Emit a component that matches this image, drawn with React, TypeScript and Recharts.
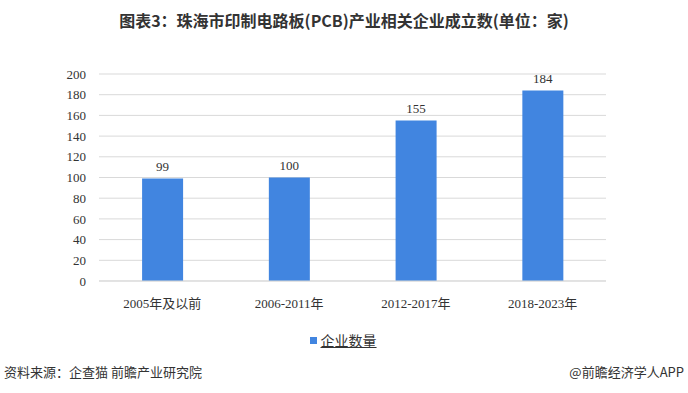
import React from "react";
import { BarChart, Bar, XAxis, YAxis, CartesianGrid, LabelList } from "recharts";

const categories = ["2005年及以前", "2006-2011年", "2012-2017年", "2018-2023年"];
const companyCounts = [99, 100, 155, 184];
const yTicks = [0, 20, 40, 60, 80, 100, 120, 140, 160, 180, 200];
const seriesName = "企业数量";
const title = "图表3：珠海市印制电路板(PCB)产业相关企业成立数(单位：家)";
const sourceText = "资料来源：企查猫 前瞻产业研究院";
const creditText = "@前瞻经济学人APP";

const data = categories.map((c, i) => ({ name: c, value: companyCounts[i] }));

const serif = '"Liberation Serif", "Times New Roman", "Noto Sans CJK SC", serif';
const sans = '"Noto Sans CJK SC", "Noto Sans", sans-serif';
const BLUE = "#4185E0";

export default function App() {
  return (
    <div style={{ position: "absolute", left: 0, top: 0, width: 688, height: 393, background: "#fff", overflow: "hidden" }}>
      <div
        style={{
          position: "absolute",
          top: 8,
          left: 0,
          width: 688,
          textAlign: "center",
          fontFamily: sans,
          fontWeight: 700,
          fontSize: 16,
          color: "#333",
          lineHeight: "24px",
        }}
      >
        {title}
      </div>
      <BarChart
        width={688}
        height={393}
        data={data}
        margin={{ top: 74, right: 82, left: 0, bottom: 82 }}
        barCategoryGap="34%"
      >
        <CartesianGrid vertical={false} stroke="#d9d9d9" />
        <XAxis
          dataKey="name"
          axisLine={{ stroke: "#d9d9d9" }}
          tickLine={false}
          tickMargin={12}
          tick={{ fontFamily: serif, fontSize: 13, fill: "#333" }}
          interval={0}
          height={30}
        />
        <YAxis
          domain={[0, 200]}
          ticks={yTicks}
          axisLine={false}
          tickLine={false}
          tickMargin={7}
          width={99}
          tick={{ fontFamily: serif, fontSize: 13, fill: "#333" }}
          interval={0}
        />
        <Bar dataKey="value" name={seriesName} fill={BLUE} isAnimationActive={false}>
          <LabelList
            dataKey="value"
            position="top"
            offset={8}
            style={{ fontFamily: serif, fontSize: 13, fill: "#333" }}
          />
        </Bar>
      </BarChart>
      <div
        style={{
          position: "absolute",
          top: 331,
          left: 0,
          width: 688,
          display: "flex",
          justifyContent: "center",
          alignItems: "center",
          fontFamily: sans,
          fontSize: 14,
          color: "#333",
        }}
      >
        <div style={{ width: 7, height: 7, background: BLUE, marginRight: 4, marginLeft: -2 }} />
        <span style={{ textDecoration: "underline", lineHeight: "18px" }}>{seriesName}</span>
      </div>
      <div
        style={{
          position: "absolute",
          top: 363,
          left: 4,
          fontFamily: sans,
          fontSize: 13,
          color: "#333",
          lineHeight: "18px",
        }}
      >
        {sourceText}
      </div>
      <div
        style={{
          position: "absolute",
          top: 363,
          right: 4,
          fontFamily: sans,
          fontSize: 13,
          color: "#333",
          lineHeight: "18px",
        }}
      >
        {creditText}
      </div>
    </div>
  );
}
